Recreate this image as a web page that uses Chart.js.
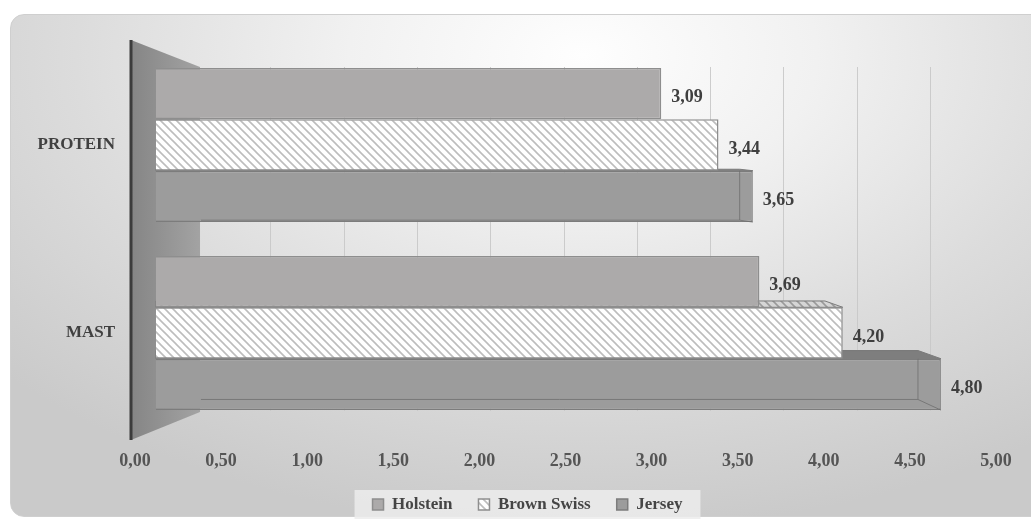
<!DOCTYPE html>
<html>
<head>
<meta charset="utf-8">
<script src="https://cdn.jsdelivr.net/npm/chart.js@4.4.1/dist/chart.umd.min.js"></script>
<style>
  html, body { margin:0; padding:0; background:#ffffff; }
  #wrap { position:relative; width:1031px; height:522px; overflow:hidden; }
  #frame { position:absolute; left:10px; top:14px; width:1040px; height:501px; border-radius:14px;
    border:1px solid #cfcfcf;
    background: radial-gradient(ellipse 75% 95% at 55% 8%, #fefefe 0%, #f1f1f1 30%, #dcdcdc 65%, #cacaca 100%); }
  canvas { position:absolute; left:0; top:0; }
</style>
</head>
<body>
<div id="wrap">
  <div id="frame"></div>
  <canvas id="c" width="1031" height="522"></canvas>
</div>
<script>
const categories = ['PROTEIN', 'MAST'];
const seriesNames = ['Holstein', 'Brown Swiss', 'Jersey'];
const holstein = [3.09, 3.69];
const brownSwiss = [3.44, 4.20];
const jersey = [3.65, 4.80];
const tickValues = [0, 0.5, 1, 1.5, 2, 2.5, 3, 3.5, 4, 4.5, 5];

const fmt = v => v.toFixed(2).replace('.', ',');

function hatch(bg, fg) {
  const c = document.createElement('canvas');
  c.width = 8; c.height = 8;
  const g = c.getContext('2d');
  g.fillStyle = bg; g.fillRect(0, 0, 8, 8);
  g.strokeStyle = fg; g.lineWidth = 1.6;
  g.beginPath();
  g.moveTo(-2, -2); g.lineTo(10, 10);
  g.moveTo(-2, 6); g.lineTo(2, 10);
  g.moveTo(6, -2); g.lineTo(10, 2);
  g.stroke();
  return c.getContext('2d').createPattern(c, 'repeat');
}
const hatchPattern = hatch('#ffffff', '#bdbdbd');
const hatchTop = hatch('#d6d6d6', '#9a9a9a');

const FONT = "'Liberation Serif', 'Times New Roman', serif";

function depth(bar) {
  const top = bar.y - bar.height / 2;
  return { dx: Math.max(0, (bar.x - 500) * 0.052), dy: (top - 130) / 28, top, bottom: bar.y + bar.height / 2 };
}

const wallPlugin = {
  id: 'wall',
  beforeDatasetsDraw(chart) {
    const ctx = chart.ctx, a = chart.chartArea;
    const w = chart.scales.xw;
    ctx.save();
    // back wall gridlines
    ctx.strokeStyle = 'rgba(200,200,200,0.9)';
    ctx.lineWidth = 1;
    tickValues.forEach(v => {
      const x = Math.round(w.getPixelForValue(v)) + 0.5;
      ctx.beginPath();
      ctx.moveTo(x, a.top + 16);
      ctx.lineTo(x, a.bottom - 16);
      ctx.stroke();
    });
    // side wall
    const x0 = a.left - 4, x1 = w.getPixelForValue(0) + 3;
    const grd = ctx.createLinearGradient(x0, 0, x1, 0);
    grd.addColorStop(0, '#858585');
    grd.addColorStop(1, '#a3a3a3');
    ctx.fillStyle = grd;
    ctx.beginPath();
    ctx.moveTo(x0, a.top - 11);
    ctx.lineTo(x1, a.top + 16);
    ctx.lineTo(x1, a.bottom - 15);
    ctx.lineTo(x0, a.bottom + 13);
    ctx.closePath();
    ctx.fill();
    // axis line
    ctx.strokeStyle = '#3c3c3c';
    ctx.lineWidth = 3;
    ctx.beginPath();
    ctx.moveTo(x0, a.top - 11);
    ctx.lineTo(x0, a.bottom + 13);
    ctx.stroke();

    // top faces of the 3D bars (drawn under the bars)
    const topFills = [null, hatchTop, '#7e7e7e'];
    chart.data.datasets.forEach((ds, i) => {
      if (!topFills[i]) return;
      chart.getDatasetMeta(i).data.forEach(bar => {
        const d = depth(bar);
        if (d.dy <= 0.5) return;
        ctx.fillStyle = topFills[i];
        ctx.strokeStyle = '#7a7a7a';
        ctx.lineWidth = 1;
        ctx.beginPath();
        ctx.moveTo(bar.base, d.top);
        ctx.lineTo(bar.x, d.top);
        ctx.lineTo(bar.x - d.dx, d.top - d.dy);
        ctx.lineTo(bar.base, d.top - d.dy);
        ctx.closePath();
        ctx.fill();
        ctx.stroke();
      });
    });
    ctx.restore();
  }
};

const labelPlugin = {
  id: 'vals',
  afterDatasetsDraw(chart) {
    const ctx = chart.ctx;
    ctx.save();
    // inner box edges of the Jersey bars
    ctx.strokeStyle = 'rgba(110,110,110,0.8)';
    ctx.lineWidth = 1;
    chart.getDatasetMeta(2).data.forEach(bar => {
      const d = depth(bar);
      if (d.dy <= 0.5) return;
      const bx = bar.x - d.dx, bb = d.bottom - d.dy * 1.3;
      ctx.beginPath();
      ctx.moveTo(bx, d.top);
      ctx.lineTo(bx, bb);
      ctx.lineTo(bar.x, d.bottom);
      ctx.moveTo(bx, bb);
      ctx.lineTo(bar.base + 45, bb);
      ctx.stroke();
    });
    ctx.font = "bold 18px " + FONT;
    ctx.fillStyle = '#3f3f3f';
    ctx.textBaseline = 'middle';
    ctx.textAlign = 'left';
    chart.data.datasets.forEach((ds, i) => {
      chart.getDatasetMeta(i).data.forEach((bar, j) => {
        ctx.fillText(fmt(ds.data[j]), bar.x + 10, bar.y + 4);
      });
    });
    ctx.restore();
  }
};

const legendBg = {
  id: 'legendBg',
  beforeDraw(chart) {
    const lg = chart.legend;
    if (!lg || !lg.legendHitBoxes || !lg.legendHitBoxes.length) return;
    const hb = lg.legendHitBoxes;
    const l = Math.min(...hb.map(h => h.left)) - 18;
    const r = Math.max(...hb.map(h => h.left + h.width)) + 18;
    const t = Math.min(...hb.map(h => h.top)) - 6;
    const b = Math.max(...hb.map(h => h.top + h.height)) + 6;
    const ctx = chart.ctx;
    ctx.save();
    ctx.fillStyle = 'rgba(236,236,236,0.85)';
    ctx.fillRect(l, t, r - l, b - t);
    ctx.restore();
  }
};

new Chart(document.getElementById('c'), {
  type: 'bar',
  data: {
    labels: categories,
    datasets: [
      { label: seriesNames[0], data: holstein, backgroundColor: '#acaaaa', borderColor: '#8e8e8e', borderWidth: 1.5 },
      { label: seriesNames[1], data: brownSwiss, backgroundColor: hatchPattern, borderColor: '#8e8e8e', borderWidth: 1.5 },
      { label: seriesNames[2], data: jersey, backgroundColor: '#9c9c9c', borderColor: '#7c7c7c', borderWidth: 1.5 }
    ]
  },
  options: {
    indexAxis: 'y',
    responsive: false,
    animation: false,
    devicePixelRatio: 1,
    layout: { padding: { left: 24, right: 0, top: 51, bottom: -1 } },
    datasets: { bar: { categoryPercentage: 0.82, barPercentage: 1.0, xAxisID: 'x' } },
    scales: {
      x: { type: 'linear', display: false, min: -0.128, max: 5.137 },
      xw: { type: 'linear', display: false, min: -0.423, max: 5.45 },
      x2: {
        type: 'linear', position: 'bottom', min: 0, max: 5,
        grid: { display: false, drawTicks: false }, border: { display: false },
        afterFit(s) { s.height = 43; },
        afterBuildTicks(s) { s.ticks = tickValues.map(v => ({ value: v })); },
        ticks: { padding: 0, color: '#555555', font: { family: FONT, size: 18, weight: 'bold', lineHeight: '69px' },
          callback: v => fmt(v), maxRotation: 0, autoSkip: false }
      },
      y: {
        type: 'category',
        grid: { display: false, drawTicks: false }, border: { display: false },
        afterFit(s) { s.width = 111; },
        ticks: { padding: 20, color: '#404040', font: { family: FONT, size: 17, weight: 'bold' } }
      },
      yr: {
        type: 'linear', position: 'right', display: true,
        grid: { display: false, drawTicks: false }, border: { display: false },
        ticks: { display: false },
        afterFit(s) { s.width = 35; }
      }
    },
    plugins: {
      legend: {
        position: 'bottom',
        labels: { color: '#454545', boxWidth: 11, boxHeight: 11, padding: 26,
          font: { family: FONT, size: 17, weight: 'bold' } }
      },
      tooltip: { enabled: false }
    }
  },
  plugins: [legendBg, wallPlugin, labelPlugin]
});
</script>
</body>
</html>
